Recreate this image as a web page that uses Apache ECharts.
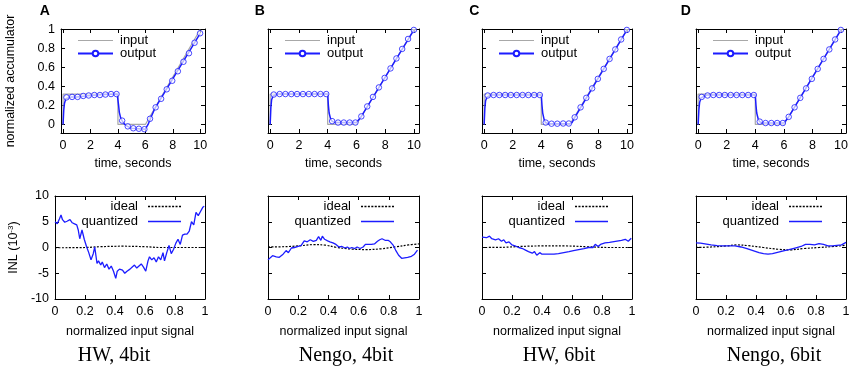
<!DOCTYPE html>
<html><head><meta charset="utf-8">
<script src="https://cdn.jsdelivr.net/npm/echarts@6/dist/echarts.min.js"></script>
<style>html,body{margin:0;padding:0;background:#fff}#c{width:851px;height:371px}</style>
</head><body><div id="c"></div>
<script>
// ---------------- DATA ----------------
const panelLetters = ['A', 'B', 'C', 'D'];
const captions = ['HW, 4bit', 'Nengo, 4bit', 'HW, 6bit', 'Nengo, 6bit'];
const timeTicks = [0, 2, 4, 6, 8, 10];
const accTicks = [0, 0.2, 0.4, 0.6, 0.8, 1];
const inlXTicks = [0, 0.2, 0.4, 0.6, 0.8, 1];
const inlYTicks = [-10, -5, 0, 5, 10];

// input signal (time, normalized accumulator)
const inputSignal = [[0, 0], [0, 0.32], [4, 0.32], [4, 0], [6, 0], [10, 1]];

// output curves
const outputA = [[0, 0], [0.05, 0.15], [0.1, 0.22], [0.2, 0.27], [0.3, 0.285], [0.6, 0.29], [1, 0.29], [2, 0.305], [3, 0.315], [3.95, 0.32], [4.0, 0.3], [4.05, 0.2], [4.1, 0.13], [4.2, 0.07], [4.3, 0.04], [4.5, 0.0], [4.7, -0.02], [5.0, -0.04], [5.5, -0.045], [6.0, -0.05], [6.1, -0.04], [6.2, 0.0], [6.4, 0.07], [6.7, 0.17], [10, 0.96]];
const outputB = [[0, 0], [0.05, 0.18], [0.1, 0.26], [0.2, 0.3], [0.3, 0.315], [0.5, 0.32], [4, 0.32], [4.05, 0.2], [4.1, 0.12], [4.2, 0.06], [4.3, 0.035], [4.5, 0.02], [6.0, 0.02], [6.1, 0.025], [6.3, 0.075], [10, 0.995]];
const outputC = [[0, 0], [0.05, 0.17], [0.1, 0.25], [0.2, 0.29], [0.3, 0.305], [0.5, 0.31], [4, 0.31], [4.05, 0.2], [4.1, 0.12], [4.2, 0.05], [4.3, 0.02], [4.5, 0.008], [6.0, 0.008], [6.15, 0.02], [6.35, 0.075], [10, 0.995]];
const outputD = [[0, 0], [0.05, 0.15], [0.1, 0.23], [0.2, 0.28], [0.3, 0.3], [0.6, 0.31], [4, 0.31], [4.05, 0.2], [4.1, 0.12], [4.2, 0.06], [4.3, 0.03], [4.5, 0.015], [6.0, 0.015], [6.1, 0.02], [6.3, 0.07], [10, 0.995]];

// marker sample times and values
const markerT = [0.25, 0.66, 1.06, 1.47, 1.87, 2.28, 2.69, 3.09, 3.5, 3.9, 4.31, 4.72, 5.12, 5.53, 5.93, 6.34, 6.75, 7.15, 7.56, 7.96, 8.37, 8.78, 9.18, 9.59, 9.99];
const markersA = [0.285, 0.29, 0.29, 0.3, 0.305, 0.31, 0.31, 0.315, 0.32, 0.32, 0.04, -0.02, -0.04, -0.045, -0.05, 0.06, 0.18, 0.27, 0.37, 0.46, 0.56, 0.66, 0.75, 0.86, 0.96];
const markersB = [0.315, 0.32, 0.32, 0.32, 0.32, 0.32, 0.32, 0.32, 0.32, 0.32, 0.035, 0.02, 0.02, 0.02, 0.02, 0.085, 0.19, 0.29, 0.39, 0.49, 0.59, 0.695, 0.795, 0.9, 0.995];
const markersC = [0.305, 0.31, 0.31, 0.31, 0.31, 0.31, 0.31, 0.31, 0.31, 0.31, 0.02, 0.008, 0.008, 0.01, 0.01, 0.075, 0.18, 0.28, 0.38, 0.48, 0.585, 0.69, 0.79, 0.895, 0.995];
const markersD = [0.29, 0.305, 0.31, 0.31, 0.31, 0.31, 0.31, 0.31, 0.31, 0.31, 0.03, 0.015, 0.015, 0.015, 0.015, 0.08, 0.18, 0.28, 0.38, 0.48, 0.585, 0.69, 0.79, 0.895, 0.995];

// INL (1e-3) vs normalized input signal
const quantA = [[0, 5.0], [0.015, 4.6], [0.03, 5.6], [0.04, 6.3], [0.05, 5.4], [0.065, 4.9], [0.08, 5.1], [0.1, 5.4], [0.115, 4.8], [0.13, 4.6], [0.145, 4.4], [0.155, 3.4], [0.165, 1.7], [0.18, 3.4], [0.195, 1.6], [0.21, 0.2], [0.225, -1.0], [0.24, -2.4], [0.255, -1.2], [0.265, 0.1], [0.28, -3.1], [0.29, -2.6], [0.305, -3.4], [0.315, -2.8], [0.33, -3.9], [0.345, -3.2], [0.36, -4.2], [0.375, -3.6], [0.39, -4.6], [0.405, -6.0], [0.415, -4.6], [0.43, -4.2], [0.45, -4.4], [0.465, -5.0], [0.48, -4.6], [0.5, -4.2], [0.515, -3.8], [0.53, -3.4], [0.545, -4.0], [0.56, -3.6], [0.575, -3.2], [0.59, -3.8], [0.605, -4.6], [0.62, -2.6], [0.63, -1.8], [0.645, -2.4], [0.66, -2.0], [0.675, -2.8], [0.69, -1.8], [0.705, -2.4], [0.72, -1.0], [0.73, -2.6], [0.745, -1.0], [0.76, 0.4], [0.775, -1.2], [0.79, -0.4], [0.805, 0.8], [0.82, 1.6], [0.835, 0.6], [0.85, 2.4], [0.865, 2.6], [0.88, 2.6], [0.895, 3.2], [0.91, 5.0], [0.925, 4.4], [0.94, 6.8], [0.955, 6.2], [0.97, 7.0], [0.985, 7.8], [0.995, 8.0]];
const idealA = [[0, -0.05], [0.2, 0], [0.3, 0.15], [0.45, 0.25], [0.6, 0.15], [0.7, 0], [0.85, 0], [1, 0]];
const quantB = [[0.0, -2.4], [0.01, -2.2], [0.03, -1.6], [0.055, -1.8], [0.075, -1.9], [0.1, -1.3], [0.12, -0.6], [0.135, -1.0], [0.155, -0.1], [0.175, 0.0], [0.2, 0.2], [0.22, 0.4], [0.24, 1.3], [0.26, 1.1], [0.28, 1.5], [0.3, 1.2], [0.32, 1.4], [0.335, 2.1], [0.35, 1.4], [0.36, 2.2], [0.375, 1.6], [0.395, 1.3], [0.41, 1.1], [0.43, 0.9], [0.45, 0.6], [0.47, 0.1], [0.49, 0.2], [0.51, -0.1], [0.525, 0.1], [0.54, -0.2], [0.555, 0.0], [0.575, -0.2], [0.59, 0.1], [0.61, -0.2], [0.63, 0.1], [0.645, 0.6], [0.66, 0.6], [0.685, 0.6], [0.705, 0.7], [0.725, 1.2], [0.74, 1.5], [0.755, 1.7], [0.775, 1.4], [0.795, 1.4], [0.81, 1.1], [0.83, 0.4], [0.845, -0.5], [0.865, -1.5], [0.885, -2.1], [0.905, -2.0], [0.925, -1.9], [0.95, -1.7], [0.97, -1.3], [0.99, -0.5]];
const idealB = [[0, 0.1], [0.1, 0.15], [0.2, 0.3], [0.3, 0.55], [0.38, 0.45], [0.45, 0.05], [0.55, -0.3], [0.65, -0.4], [0.75, -0.25], [0.85, 0.15], [0.93, 0.5], [1, 0.7]];
const quantC = [[0.0, 2.0], [0.03, 1.9], [0.05, 2.2], [0.065, 1.7], [0.09, 1.5], [0.11, 1.7], [0.13, 1.2], [0.145, 1.5], [0.16, 0.9], [0.18, 1.1], [0.2, 0.5], [0.22, 0.3], [0.245, 0.0], [0.27, -0.2], [0.29, -0.5], [0.31, -0.8], [0.335, -1.1], [0.35, -0.8], [0.365, -1.5], [0.385, -1.0], [0.4, -1.3], [0.42, -1.3], [0.445, -1.3], [0.48, -1.3], [0.51, -1.2], [0.545, -1.0], [0.58, -0.8], [0.61, -0.6], [0.645, -0.4], [0.68, -0.2], [0.71, 0.0], [0.74, 0.0], [0.755, 0.6], [0.775, 0.2], [0.79, 0.6], [0.82, 0.9], [0.85, 1.0], [0.89, 1.2], [0.93, 1.4], [0.955, 1.6], [0.975, 1.2], [0.995, 1.8]];
const idealC = [[0, 0], [0.15, 0.05], [0.25, 0.2], [0.4, 0.3], [0.55, 0.3], [0.7, 0.15], [0.85, 0], [1, 0]];
const quantD = [[0.0, 0.9], [0.03, 0.85], [0.06, 0.7], [0.1, 0.5], [0.14, 0.35], [0.18, 0.3], [0.22, 0.3], [0.26, 0.3], [0.3, 0.1], [0.34, -0.2], [0.38, -0.6], [0.42, -1.0], [0.45, -1.2], [0.48, -1.3], [0.51, -1.2], [0.55, -0.9], [0.59, -0.6], [0.62, -0.4], [0.66, -0.1], [0.7, 0.2], [0.73, 0.6], [0.76, 0.6], [0.79, 0.5], [0.82, 0.75], [0.85, 0.6], [0.88, 0.3], [0.91, 0.3], [0.94, 0.4], [0.97, 0.5], [1.0, 1.0]];
const idealD = [[0, 0], [0.1, 0.1], [0.2, 0.3], [0.27, 0.5], [0.35, 0.35], [0.45, 0], [0.55, -0.35], [0.63, -0.45], [0.72, -0.2], [0.82, 0], [0.92, 0.2], [1, 0.45]];

const outputs = [outputA, outputB, outputC, outputD];
const markers = [markersA, markersB, markersC, markersD];
const quants = [quantA, quantB, quantC, quantD];
const ideals = [idealA, idealB, idealC, idealD];

// ---------------- LAYOUT / STYLE ----------------
const BLUE = '#1c1cff', GREY = '#a8a8a8', FONT = '"Liberation Sans", Arial, sans-serif';
const topLayout = [[61, 144], [268, 151], [482, 150], [696, 150]];
const botLayout = [[55, 150], [268, 151], [482, 150], [696, 150]];
const TOP_Y = 29, TOP_H = 104, BOT_Y = 196, BOT_H = 103;
const letterX = [44.7, 259.7, 474.3, 685.7];
const captionX = [114, 346, 559, 774];
const FS = 12.5;

const grids = [], xAxes = [], yAxes = [], series = [], legends = [], graphics = [];

function tick(custom) {
  const t = { show: true, inside: true, length: 4, lineStyle: { color: '#000', width: 1 } };
  if (custom) t.customValues = custom;
  return t;
}
function label(show, custom) {
  const l = { show: show, color: '#000', fontSize: FS, fontFamily: FONT, margin: 6 };
  if (custom) l.customValues = custom;
  return l;
}
const axLine = { show: true, onZero: false, lineStyle: { color: '#000', width: 1 } };

function addGrid(left, width, top, height, xc, yc) {
  const g = grids.length;
  grids.push({ left: left, top: top, width: width, height: height, show: false, containLabel: false, outerBoundsMode: 'none' });
  const xi = xAxes.length, yi = yAxes.length;
  const xBase = { type: 'value', gridIndex: g, min: xc.min, max: xc.max, splitLine: { show: false }, axisLine: axLine };
  if (xc.interval) xBase.interval = xc.interval;
  xAxes.push(Object.assign({}, xBase, {
    position: 'bottom', axisTick: tick(xc.custom), axisLabel: label(true, xc.custom),
    name: xc.name, nameLocation: 'middle', nameGap: xc.nameGap,
    nameTextStyle: { color: '#000', fontSize: FS, fontFamily: FONT }
  }));
  xAxes.push(Object.assign({}, xBase, { position: 'top', axisTick: tick(xc.custom), axisLabel: { show: false } }));
  const yBase = { type: 'value', gridIndex: g, min: yc.min, max: yc.max, splitLine: { show: false }, axisLine: axLine };
  if (yc.interval) yBase.interval = yc.interval;
  const yMain = Object.assign({}, yBase, { position: 'left', axisTick: tick(yc.custom), axisLabel: label(yc.showLabel, yc.custom) });
  if (yc.name) {
    yMain.name = yc.name; yMain.nameLocation = 'middle'; yMain.nameGap = yc.nameGap;
    yMain.nameTextStyle = { color: '#000', fontSize: FS, fontFamily: FONT, rich: { sup: { fontSize: 8, fontFamily: FONT, color: '#000', verticalAlign: 'top', lineHeight: 8 } } };
  }
  yAxes.push(yMain);
  yAxes.push(Object.assign({}, yBase, { position: 'right', axisTick: tick(yc.custom), axisLabel: { show: false } }));
  return { xi: xi, yi: yi };
}

function dottedIcon() {
  let p = 'path://';
  for (let k = 0; k < 10; k++) p += 'M' + (k * 3.4) + ',0h2v1.4h-2z';
  return p;
}

for (let i = 0; i < 4; i++) {
  // ---- top panel ----
  const [tl, tw] = topLayout[i];
  const a = addGrid(tl, tw, TOP_Y, TOP_H,
    { min: -0.15, max: 10.35, custom: timeTicks, name: 'time, seconds', nameGap: 24 },
    { min: -0.09, max: 1.005, custom: accTicks, showLabel: i === 0, name: i === 0 ? 'normalized accumulator' : null, nameGap: 44 });
  series.push({ type: 'line', name: 'input', xAxisIndex: a.xi, yAxisIndex: a.yi, data: inputSignal, symbol: 'none', color: GREY,
    lineStyle: { color: GREY, width: 1.2 }, itemStyle: { color: GREY }, z: 2 });
  series.push({ type: 'line', name: 'output', xAxisIndex: a.xi, yAxisIndex: a.yi, data: outputs[i], showSymbol: false,
    symbol: 'emptyCircle', symbolSize: 5, color: BLUE, lineStyle: { color: BLUE, width: 1.5 }, itemStyle: { color: BLUE }, z: 3 });
  series.push({ type: 'scatter', name: 'output', xAxisIndex: a.xi, yAxisIndex: a.yi,
    data: markerT.map((t, k) => [t, markers[i][k]]), symbol: 'circle', symbolSize: 5.5,
    itemStyle: { color: 'rgba(255,255,255,0.85)', borderColor: BLUE, borderWidth: 1 }, z: 4 });
  legends.push({ orient: 'vertical', align: 'left', left: tl + 16, top: 34, padding: 0, itemGap: 0,
    itemWidth: 35, itemHeight: 7, selectedMode: false,
    textStyle: { color: '#000', fontSize: 13, fontFamily: FONT, lineHeight: 12, padding: [0, 0, 0, 2] },
    data: [{ name: 'input', icon: 'path://M0,0H35V1.2H0Z' }, 'output'] });

  // ---- bottom panel ----
  const [bl, bw] = botLayout[i];
  const b = addGrid(bl, bw, BOT_Y, BOT_H,
    { min: 0, max: 1, interval: 0.2, name: 'normalized input signal', nameGap: 26 },
    { min: -10, max: 10, interval: 5, showLabel: i === 0, name: i === 0 ? 'INL (10{sup|-3})' : null, nameGap: 35 });
  series.push({ type: 'line', name: 'ideal', xAxisIndex: b.xi, yAxisIndex: b.yi, data: ideals[i], symbol: 'none', smooth: 0.4,
    color: '#000', lineStyle: { color: '#000', width: 1.2, type: [2, 1.5] }, itemStyle: { color: '#000' }, z: 2 });
  series.push({ type: 'line', name: 'quantized', xAxisIndex: b.xi, yAxisIndex: b.yi, data: quants[i], symbol: 'none',
    color: BLUE, lineStyle: { color: BLUE, width: 1.3 }, itemStyle: { color: BLUE }, z: 3 });
  legends.push({ orient: 'vertical', align: 'right', right: 851 - (bl + 93 + 33), top: 200, padding: 0, itemGap: 2,
    itemWidth: 33, itemHeight: 8, selectedMode: false,
    textStyle: { color: '#000', fontSize: 13, fontFamily: FONT, lineHeight: 12, padding: [0, 5, 0, 0] },
    data: [{ name: 'ideal', icon: dottedIcon() }, { name: 'quantized', icon: 'path://M0,0H33V1.4H0Z' }] });

  graphics.push({ type: 'text', x: letterX[i], y: 11.5, style: { text: panelLetters[i], align: 'center', verticalAlign: 'middle',
    font: 'bold 14px "Liberation Sans", Arial, sans-serif', fill: '#000' } });
  graphics.push({ type: 'text', x: captionX[i], y: 356, style: { text: captions[i], align: 'center', verticalAlign: 'middle',
    font: '20px "Liberation Serif", "Times New Roman", serif', fill: '#000' } });
}

const chart = echarts.init(document.getElementById('c'));
chart.setOption({
  animation: false,
  backgroundColor: '#fff',
  grid: grids, xAxis: xAxes, yAxis: yAxes, series: series, legend: legends, graphic: graphics
});
</script>
</body></html>
